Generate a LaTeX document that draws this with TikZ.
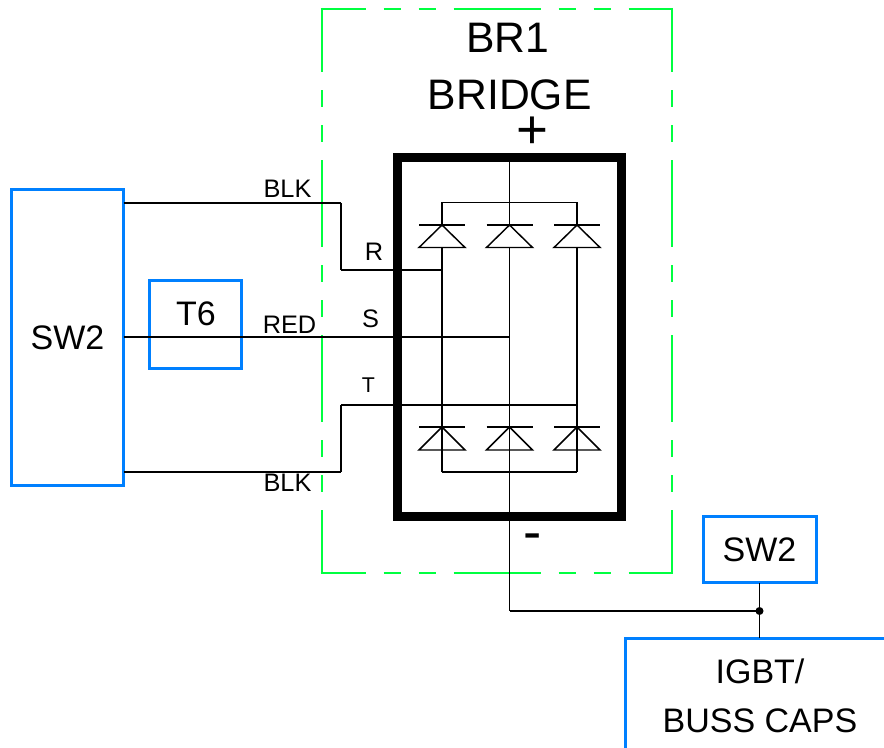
\documentclass[tikz,border=0pt]{standalone}
\usepackage{fontspec}
\setmainfont{Liberation Sans}
\def\phases{{442/a}, {509.5/b}, {577/c}}
\def\turns{{(341, 203)/rturn}, {(341, 270)/rdown}, {(442, 270)/rtap}, {(509.5, 337)/stap}, {(577, 405)/ttap}, {(341, 405)/tdown}, {(341, 472)/tturn}, {(509.5, 157.5)/pos}, {(509.5, 611)/negturn}, {(759.5, 611)/neg}}
\def\connect{rturn/rdown, rdown/rtap, ttap/tdown, tdown/tturn, pos/topb, botb/negturn, negturn/neg, topa/topc, bota/botc, topa/cata, topb/catb, topc/catc, bota/anoa, botb/anob, botc/anoc}
\def\greenside{{(321.7, 9)/(671.7, 9)/31.4pt}, {(321.7, 572.8)/(671.7, 572.8)/31.4pt}, {(321.7, 9)/(321.7, 572.8)/17.1pt}, {(671.7, 9)/(671.7, 572.8)/17.1pt}}
\tikzstyle{turn} = [coordinate]
\tikzstyle{wire} = [draw,line width=1.1pt,-]
\tikzstyle{blue box} = [draw=boxblue,line width=2.25pt,outer sep=0pt,inner sep=0pt,font=\fontsize{25.5}{25.5}\selectfont]
\tikzstyle{green side} = [draw=linegreen,line width=1.7pt,shorten <=-0.85pt,shorten >=-0.85pt,dash pattern=on 65.25pt off 13.5pt on 12.75pt off 13.5pt on 12.75pt off 13.5pt]
\tikzstyle{real frame} = [draw,line width=6.6pt,outer sep=0pt,minimum width=168pt,minimum height=269pt]
\tikzstyle{caption} = [anchor=base,inner sep=0pt,font=\fontsize{25.5}{25.5}\selectfont]
\tikzstyle{wire label} = [anchor=base,inner sep=0pt,font=\fontsize{19}{19}\selectfont]
\tikzstyle{title} = [anchor=base,inner sep=0pt,font=\fontsize{32}{32}\selectfont]
\tikzstyle{polarity} = [anchor=base,inner sep=0pt,font=\fontsize{41}{41}\selectfont]
\definecolor{boxblue}{RGB}{0,128,255}
\definecolor{linegreen}{RGB}{0,255,64}

\begin{document}
\begin{tikzpicture}[x=0.75pt,y=-0.75pt]
  \useasboundingbox (0, 0) rectangle (884, 748);
  \clip (0, 0) rectangle (884, 748);

  % First the dashed outline and the boxes
  \foreach \start/\finish/\phase in \greenside
    \path[green side,dash phase=\phase] \start -- \finish;

  \node[blue box,minimum width=84pt,minimum height=221.25pt] (sw2left) at (67.5, 337.5) {SW2};
  \node[blue box,minimum width=69.4pt,minimum height=65.25pt] (t6) at (195.3, 324.5) {};
  \node[blue box,minimum width=84.75pt,minimum height=50pt] (sw2right) at (759.5, 549.5) {SW2};
  \node[blue box,minimum width=300pt,minimum height=150pt,anchor=north west] (igbt) at (625, 638) {};
  \node[real frame] (bridge) at (509.75, 337) {};

  % Then the corners of the wires and the rectifier legs
  \foreach \pos/\name in \turns
    \node[turn] (\name) at \pos {};

  \foreach \x/\name in \phases {
    \coordinate (top\name) at (\x, 202.5);
    \coordinate (cat\name) at (\x, 225);
    \coordinate (ano\name) at (\x, 247.5);
    \coordinate (lowcat\name) at (\x, 427);
    \coordinate (lowano\name) at (\x, 450);
    \coordinate (bot\name) at (\x, 472);
    \path[wire] (ano\name) -- (lowcat\name);
    \path[wire] ([xshift=-17.25pt]cat\name) -- ([xshift=17.25pt]cat\name);
    \path[wire] (cat\name) -- ([xshift=-17.25pt]ano\name) -- ([xshift=17.25pt]ano\name) -- cycle;
    \path[wire] ([xshift=-17.25pt]lowcat\name) -- ([xshift=17.25pt]lowcat\name);
    \path[wire] (lowcat\name) -- ([xshift=-17.25pt]lowano\name) -- ([xshift=17.25pt]lowano\name) -- cycle;
    \path[wire] (lowano\name) -- (bot\name);
  }

  % Connect everything
  \foreach \source/\dest in \connect
    \path[wire] (\source) -- (\dest);
  \path[wire] (sw2left.east |- rturn) -- (rturn);
  \path[wire] (sw2left.east |- stap) -- (stap);
  \path[wire] (sw2left.east |- tturn) -- (tturn);
  \path[wire] (sw2right.south) -- (sw2right.south |- igbt.north);
  \fill (neg) circle (3pt);

  % Texts
  \node[wire label] (blktop) at (287.5, 198) {BLK};
  \node[wire label] (red) at (289.5, 333) {RED};
  \node[wire label] (blkbot) at (287.5, 491.7) {BLK};
  \node[wire label] (rname) at (374, 260.7) {R};
  \node[wire label] (sname) at (370.5, 327) {S};
  \node[wire label,font=\fontsize{16}{16}\selectfont] (tname) at (368.5, 392.7) {T};
  \node[caption] (t6name) at (196, 325.5) {T6};
  \node[title] (brname) at (507.5, 53) {BR1};
  \node[title] (bridgename) at (509.7, 110) {BRIDGE};
  \node[polarity] (plus) at (532, 149) {+};
  \node[polarity] (minus) at (532.5, 550) {-};
  \node[caption] (igbtname) at (760, 683) {IGBT/};
  \node[caption] (bussname) at (760, 732) {BUSS CAPS};
\end{tikzpicture}
\end{document}
